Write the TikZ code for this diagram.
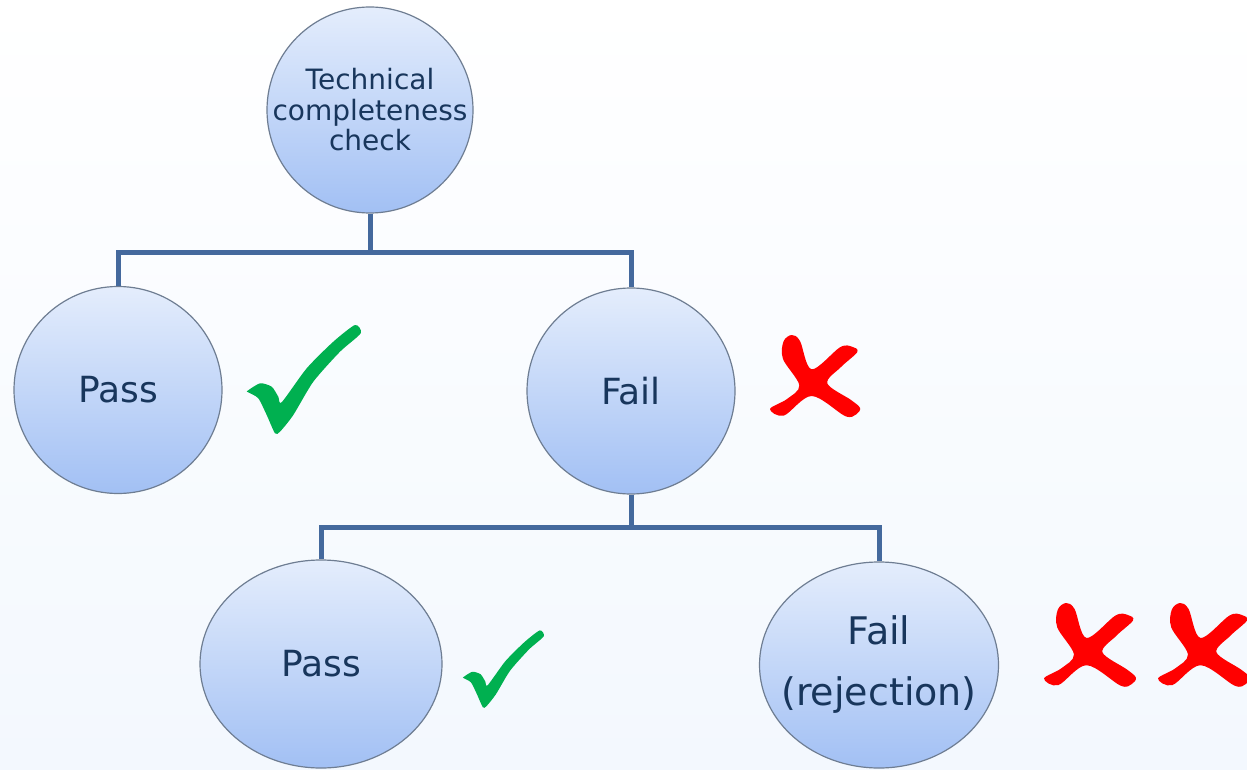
\documentclass[tikz,border=0pt]{standalone}
\usepackage{fontspec}
\setmainfont{DejaVu Sans}
\usepackage{tikz}
\usetikzlibrary{shapes.geometric}
\definecolor{nodetop}{HTML}{E4EDFC}
\definecolor{nodebot}{HTML}{A2C0F4}
\definecolor{nodeline}{HTML}{6E7D92}
\definecolor{nodetext}{HTML}{18365C}
\definecolor{linkblue}{HTML}{44699D}
\definecolor{passgreen}{HTML}{00B050}
\definecolor{failred}{HTML}{FF0000}
\definecolor{bgbot}{HTML}{F3F8FE}

\begin{document}
\begin{tikzpicture}
		[
		x=0.5pt, y=-0.5pt,
		bubble/.style={ellipse, inner sep=0pt, draw=nodeline, line width=0.6pt, top color=nodetop, bottom color=nodebot, text=nodetext, align=center, font=\fontsize{18}{30.5}\selectfont},
		link/.style={draw=linkblue, line width=2.5pt},
		cross/.pic={\fill[failred] plot[smooth cycle, tension=0.55] coordinates {(22.7,0) (31,6) (42.7,34.3) (71,12.3) (83,11.7) (88.3,17) (72,32) (58.3,48.3) (82,65) (91,73) (87,79.5) (76,81) (42.7,61) (15,80.5) (1,74) (18,64) (30.3,50.3) (14,24) (14.5,6.5)};},
		tick/.pic={\fill[passgreen] plot[smooth cycle, tension=0.4] coordinates {(0.3,68) (13,60.3) (24.7,63.7) (31.3,73.7) (34.7,79.3) (59.7,45.3) (86.3,18.7) (108,2) (113.7,10.3) (93,28.7) (66.3,58.7) (46.3,92) (33,108.7) (28,110.3) (19.7,92) (11.3,75.3) (1.3,69.3)};}
		]
		\useasboundingbox (0,0) rectangle (1247,770);
		\shade[top color=white, middle color=white, bottom color=bgbot] (0,0) rectangle (1247,770);
		% decision tree
		\node[bubble, minimum width=103pt, minimum height=103pt, inner xsep=-14pt, font=\fontsize{14}{15.25}\selectfont] (check) at (370,110) {Technical\\completeness\\check};
		\node[bubble, minimum width=104pt, minimum height=103.5pt] (pass1) at (118,390) {Pass};
		\node[bubble, minimum width=104pt, minimum height=103pt] (fail1) at (631,391) {Fail};
		\node[bubble, minimum width=121pt, minimum height=104pt] (pass2) at (321,664) {Pass};
		\node[bubble, minimum width=119.5pt, minimum height=103pt, inner xsep=-10pt, font=\fontsize{19}{30.5}\selectfont] (fail2) at (879,665) {Fail\\(rejection)};
		\coordinate (split1) at (370,253);
		\coordinate (split2) at (631,527);
		\draw[link] (check) -- (split1) -| (pass1);
		\draw[link] (split1) -| (fail1);
		\draw[link] (fail1) -- (split2) -| (pass2);
		\draw[link] (split2) -| (fail2);
		% marks
		\pic at (247,323) {tick};
		\pic[scale=0.71] at (463,629) {tick};
		\pic at (769,335) {cross};
		\pic[scale=1.02] at (1043,603) {cross};
		\pic[scale=1.02] at (1157,603) {cross};
\end{tikzpicture}
\end{document}
